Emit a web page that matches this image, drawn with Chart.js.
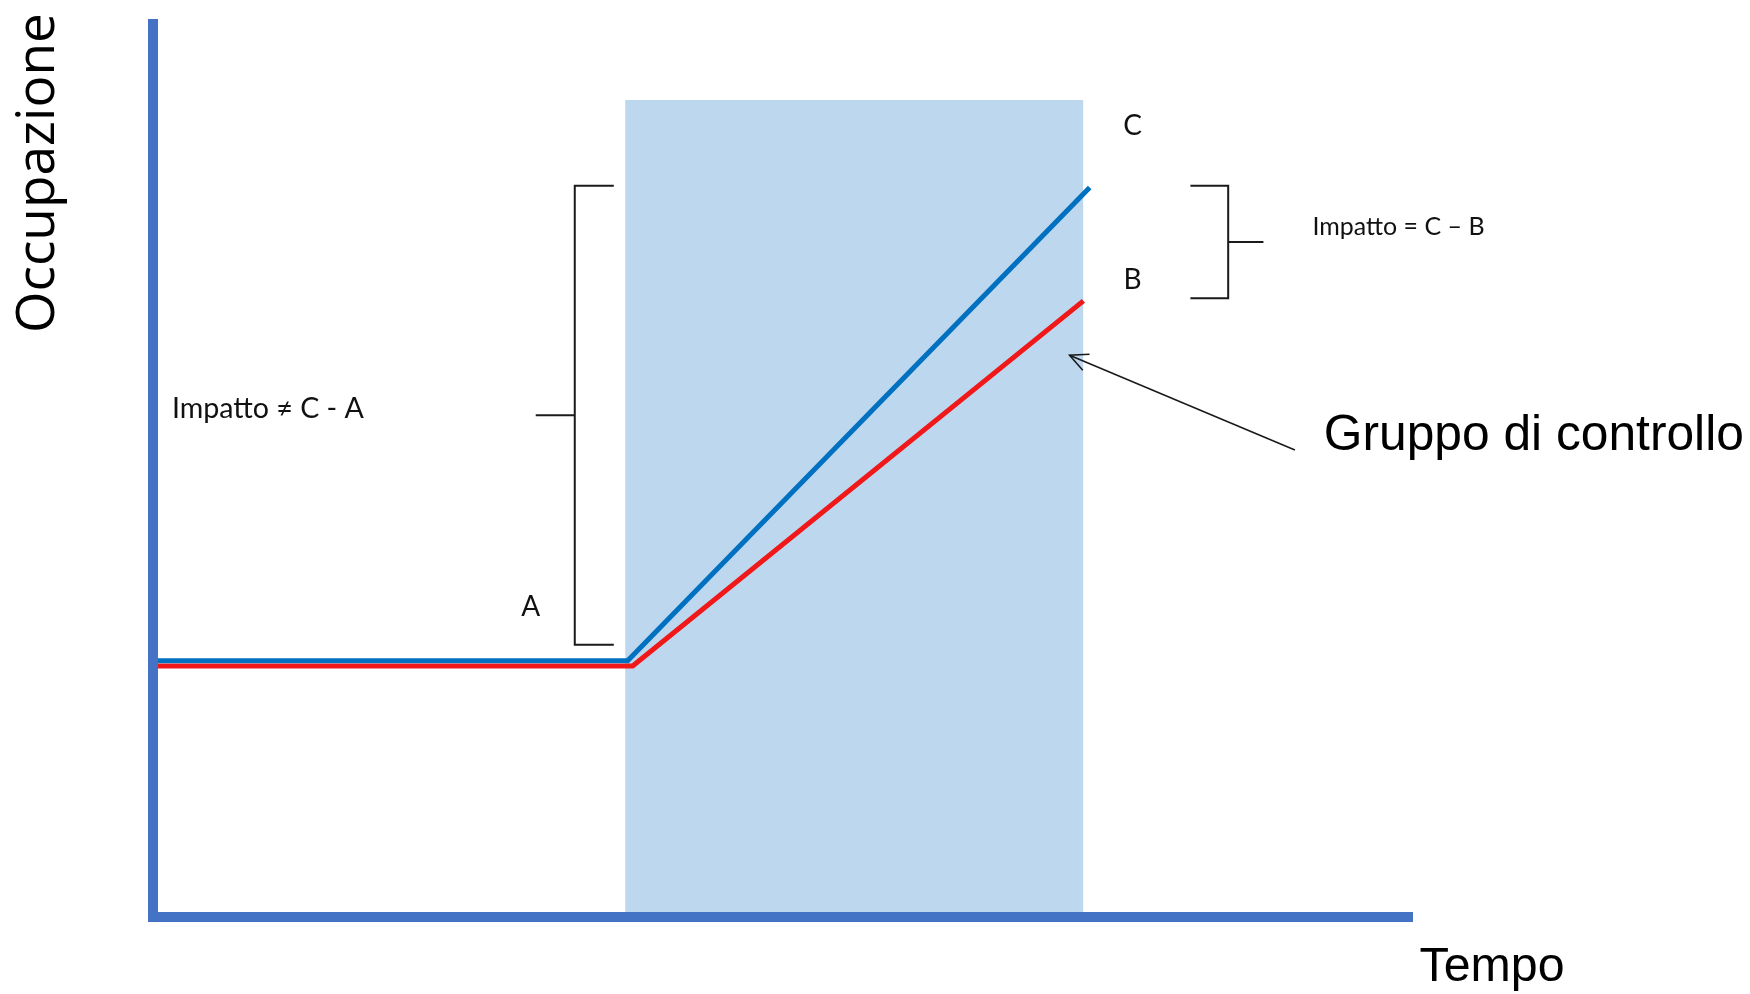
<!DOCTYPE html>
<html>
<head>
<meta charset="utf-8">
<script src="https://cdn.jsdelivr.net/npm/chart.js@4"></script>
<style>
  html, body { margin: 0; padding: 0; background: #ffffff; }
  #wrap { width: 1750px; height: 994px; }
</style>
</head>
<body>
<div id="wrap"><canvas id="c" width="1750" height="994"></canvas></div>
<script>
// ---- Data (abstract units: time 0..100, occupation 0..100) ----
const timeTreated = [0, 37.7, 74.4];
const occTreated  = [28.7, 28.7, 81.7];
const timeControl = [0, 38.1, 73.9];
const occControl  = [28.1, 28.1, 69.0];
const bandTime    = [37.5, 73.9];
const bandTop     = [91.5, 91.5];

// Annotation anchors in the same data units
const brackets = [
  { spine: 33.5, tip: 36.6, stem: 30.4, top: 81.9, bottom: 30.5 },
  { spine: 85.4, tip: 82.4, stem: 88.2, top: 81.9, bottom: 69.3 }
];
const arrow = { from: [90.7, 52.3], to: [72.8, 62.9] };
const labels = [
  { text: 'Impatto \u2260 C - A', x: 1.5,  y: 55.9, family: 'Lato', width: 192, color: '#111111' },
  { text: 'A',                    x: 30.0, y: 33.7, family: 'Lato', size: 28, color: '#111111', align: 'center' },
  { text: 'C',                    x: 77.8, y: 87.6, family: 'Lato', size: 28, color: '#111111', align: 'center' },
  { text: 'B',                    x: 77.8, y: 70.3, family: 'Lato', size: 28, color: '#111111', align: 'center' },
  { text: 'Impatto = C \u2013 B', x: 92.1, y: 76.4, family: 'Lato', width: 172, color: '#111111' },
  { text: 'Gruppo di controllo',  x: 93.0, y: 52.3, family: 'Liberation Sans', width: 420, color: '#000000' },
  { text: 'Tempo',                x: 100.6, y: -7.2, family: 'Liberation Sans', width: 145, color: '#000000' },
  { text: 'Occupazione',          x: -7.9, y: 65.4, family: 'Open Sans', width: 320, color: '#000000', rotate: true }
];

const toPts = (xs, ys) => xs.map((v, i) => ({ x: v, y: ys[i] }));

const annotPlugin = {
  id: 'annot',
  afterDatasetsDraw(chart) {
    const { ctx, scales: { x, y } } = chart;
    const X = v => x.getPixelForValue(v);
    const Y = v => y.getPixelForValue(v);
    ctx.save();
    // brackets
    ctx.strokeStyle = '#1a1a1a';
    ctx.lineWidth = 2;
    ctx.lineJoin = 'miter';
    brackets.forEach(b => {
      ctx.beginPath();
      ctx.moveTo(X(b.tip), Y(b.top));
      ctx.lineTo(X(b.spine), Y(b.top));
      ctx.lineTo(X(b.spine), Y(b.bottom));
      ctx.lineTo(X(b.tip), Y(b.bottom));
      ctx.stroke();
      const mid = (b.top + b.bottom) / 2;
      ctx.beginPath();
      ctx.moveTo(X(b.spine), Y(mid));
      ctx.lineTo(X(b.stem), Y(mid));
      ctx.stroke();
    });
    // arrow
    const x1 = X(arrow.from[0]), y1 = Y(arrow.from[1]);
    const x2 = X(arrow.to[0]), y2 = Y(arrow.to[1]);
    ctx.lineWidth = 1.6;
    ctx.beginPath();
    ctx.moveTo(x1, y1);
    ctx.lineTo(x2, y2);
    ctx.stroke();
    const ang = Math.atan2(y1 - y2, x1 - x2);
    const hl = 20, spread = 0.45;
    ctx.beginPath();
    ctx.moveTo(x2 + hl * Math.cos(ang + spread), y2 + hl * Math.sin(ang + spread));
    ctx.lineTo(x2, y2);
    ctx.lineTo(x2 + hl * Math.cos(ang - spread), y2 + hl * Math.sin(ang - spread));
    ctx.stroke();
    // labels
    labels.forEach(l => {
      let size = l.size || 30;
      if (l.width) {
        ctx.font = '100px "' + l.family + '"';
        size = 100 * l.width / ctx.measureText(l.text).width;
      }
      ctx.font = size.toFixed(2) + 'px "' + l.family + '"';
      ctx.fillStyle = l.color;
      ctx.textBaseline = 'alphabetic';
      ctx.textAlign = l.align || 'left';
      const px = X(l.x), py = Y(l.y);
      if (l.rotate) {
        ctx.save();
        ctx.translate(px, py);
        ctx.rotate(-Math.PI / 2);
        ctx.fillText(l.text, 0, 0);
        ctx.restore();
      } else {
        ctx.fillText(l.text, px, py);
      }
    });
    ctx.restore();
  }
};

const axisOpts = (isX) => ({
  type: 'linear',
  min: 0,
  max: 100,
  z: 1,
  ticks: { display: false },
  grid: { display: true, drawOnChartArea: false, drawTicks: false, color: 'rgba(0,0,0,0)' },
  border: { display: true, color: '#4472C4', width: 10, z: 1 },
  afterFit(scale) { if (isX) scale.height = 0; else scale.width = 0; }
});

new Chart(document.getElementById('c'), {
  type: 'line',
  data: {
    datasets: [
      {
        label: 'Trattati',
        data: toPts(timeTreated, occTreated),
        borderColor: '#0070C0',
        borderWidth: 5,
        pointRadius: 0,
        tension: 0,
        fill: false,
        borderCapStyle: 'butt'
      },
      {
        label: 'Gruppo di controllo',
        data: toPts(timeControl, occControl),
        borderColor: '#F01818',
        borderWidth: 5,
        pointRadius: 0,
        tension: 0,
        fill: false,
        borderCapStyle: 'butt'
      },
      {
        label: 'Periodo',
        data: toPts(bandTime, bandTop),
        borderWidth: 0,
        borderColor: 'rgba(0,0,0,0)',
        backgroundColor: '#BDD7EE',
        pointRadius: 0,
        fill: 'origin'
      }
    ]
  },
  options: {
    responsive: false,
    animation: false,
    events: [],
    layout: { padding: { left: 153, right: 338, top: 24, bottom: 77 } },
    plugins: { legend: { display: false }, tooltip: { enabled: false }, title: { display: false } },
    scales: { x: axisOpts(true), y: axisOpts(false) }
  },
  plugins: [annotPlugin]
});
</script>
</body>
</html>
